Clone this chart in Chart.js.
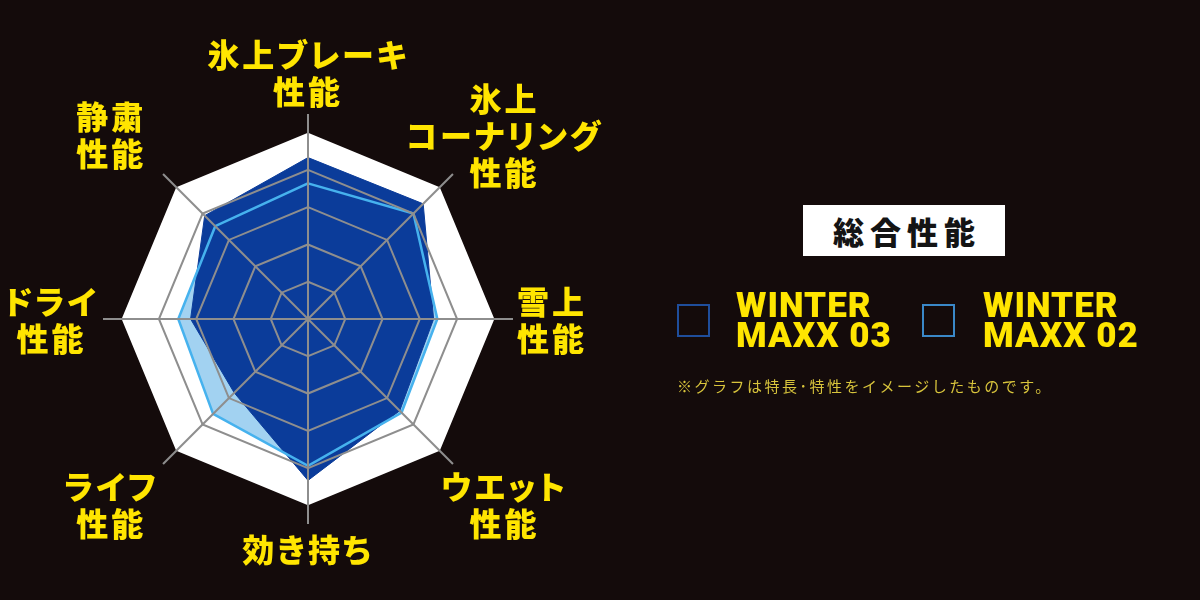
<!DOCTYPE html>
<html>
<head>
    <meta charset="utf-8">
    <title>総合性能</title>
    <script src="https://cdn.jsdelivr.net/npm/chart.js"></script>
    <style>
        html, body {
            margin: 0;
            padding: 0;
            background-color: #140b0b;
        }
        .stage {
            position: relative;
            width: 1200px;
            height: 600px;
            overflow: hidden;
        }
        .chart-wrap {
            position: absolute;
            left: 0;
            top: 0;
            width: 1200px;
            height: 600px;
        }
        .axis-label {
            position: absolute;
            transform: translate(-50%, -50%);
            color: #ffe500;
            font-family: "Noto Sans CJK JP", sans-serif;
            font-weight: 900;
            font-size: 32px;
            line-height: 37px;
            letter-spacing: 3px;
            text-align: center;
            white-space: nowrap;
            font-feature-settings: "palt";
        }
        .title-box {
            position: absolute;
            left: 803px;
            top: 205px;
            width: 202px;
            height: 51px;
            background: #fff;
            color: #141414;
            font-family: "Noto Sans CJK JP", sans-serif;
            font-weight: 900;
            font-size: 31px;
            line-height: 51px;
            letter-spacing: 6px;
            padding-left: 6px;
            box-sizing: border-box;
            text-align: center;
        }
        .legend-box {
            position: absolute;
            top: 304px;
            width: 33px;
            height: 33px;
            box-sizing: border-box;
            border: 2px solid #1f4e9c;
        }
        .legend-text {
            position: absolute;
            top: 291px;
            color: #ffe500;
            font-family: Roboto, "Liberation Sans", sans-serif;
            font-weight: 900;
            font-size: 35px;
            line-height: 30px;
            letter-spacing: 1px;
            white-space: nowrap;
        }
        .note {
            position: absolute;
            left: 677px;
            top: 375px;
            color: #d8c43c;
            font-family: "Noto Sans CJK JP", sans-serif;
            font-size: 15px;
            line-height: 22px;
            letter-spacing: 2.5px;
            white-space: nowrap;
        }
    </style>
</head>
<body>
    <div class="stage">
        <div class="chart-wrap">
            <canvas id="radarChart"></canvas>
        </div>
        <div id="labels"></div>

        <div class="title-box">総合性能</div>

        <div class="legend-box" style="left: 677px; border-color: #1f4e9c;"></div>
        <div class="legend-text" style="left: 736px;">WINTER<br>MAXX 03</div>
        <div class="legend-box" style="left: 922px; border-color: #3a88c8;"></div>
        <div class="legend-text" style="left: 983px;">WINTER<br>MAXX 02</div>

        <div class="note">※グラフは特長･特性をイメージしたものです。</div>
    </div>

    <script>
        // axes, clockwise from the top
        const axisLabels = [
            ['氷上ブレーキ', '性能'],
            ['氷上', 'コーナリング', '性能'],
            ['雪上', '性能'],
            ['ウエット', '性能'],
            ['効き持ち'],
            ['ライフ', '性能'],
            ['ドライ', '性能'],
            ['静粛', '性能']
        ];
        const maxx03 = [4.33, 4.37, 3.37, 3.48, 4.33, 2.8, 3.15, 3.92];
        const maxx02 = [3.64, 4.0, 3.47, 3.55, 3.94, 3.6, 3.48, 3.52];
        const outerRing = [5, 5, 5, 5, 5, 5, 5, 5];
        const gridTicks = [1, 2, 3, 4];

        // label elements (html so that proportional kana spacing works)
        const labelBox = document.getElementById('labels');
        const labelEls = axisLabels.map(lines => {
            const el = document.createElement('div');
            el.className = 'axis-label';
            el.innerHTML = lines.join('<br>');
            labelBox.appendChild(el);
            return el;
        });

        const axisLabelPlugin = {
            id: 'axisLabelPlugin',
            afterDraw(chart) {
                const scale = chart.scales.r;
                const base = scale.drawingArea + 8;
                labelEls.forEach((el, i) => {
                    const dir = scale.getPointPosition(i, 1);
                    const dx = dir.x - scale.xCenter;
                    const dy = dir.y - scale.yCenter;
                    let p;
                    if (Math.abs(dy) < 0.01) {
                        p = scale.getPointPosition(i, base + el.offsetWidth / 2 - 4);
                    } else if (Math.abs(dx) < 0.01) {
                        p = scale.getPointPosition(i, base + (axisLabels[i].length - 1) * 18.5 + 16);
                    } else {
                        // diagonal: push the block out past the corner
                        p = scale.getPointPosition(i, base);
                        p = { x: p.x + Math.sign(dx) * 46, y: p.y + Math.sign(dy) * 34 };
                    }
                    el.style.left = p.x + 'px';
                    el.style.top = p.y + 'px';
                });
            }
        };

        const ctx = document.getElementById('radarChart').getContext('2d');
        new Chart(ctx, {
            type: 'radar',
            data: {
                labels: axisLabels,
                datasets: [
                    {
                        label: 'WINTER MAXX 02',
                        data: maxx02,
                        fill: false,
                        borderColor: '#46b2ee',
                        borderWidth: 2.5,
                        pointRadius: 0
                    },
                    {
                        label: 'WINTER MAXX 03',
                        data: maxx03,
                        fill: true,
                        backgroundColor: '#0b3c9a',
                        borderColor: '#0b3c9a',
                        borderWidth: 1,
                        pointRadius: 0
                    },
                    {
                        label: 'WINTER MAXX 02 fill',
                        data: maxx02,
                        fill: true,
                        backgroundColor: '#a2d2f1',
                        borderWidth: 0,
                        pointRadius: 0
                    },
                    {
                        label: 'outer',
                        data: outerRing,
                        fill: true,
                        backgroundColor: '#ffffff',
                        borderWidth: 0,
                        pointRadius: 0
                    }
                ]
            },
            options: {
                responsive: true,
                maintainAspectRatio: false,
                animation: false,
                layout: {
                    padding: { left: 103, right: 687, top: 114, bottom: 76 }
                },
                plugins: {
                    legend: { display: false },
                    tooltip: { enabled: false }
                },
                elements: {
                    line: { tension: 0, borderJoinStyle: 'miter' }
                },
                scales: {
                    r: {
                        min: 0,
                        max: 5.5,
                        ticks: { display: false, stepSize: 1 },
                        pointLabels: { display: false },
                        grid: {
                            z: 1,
                            lineWidth: 2,
                            color: c => gridTicks.includes(c.tick.value) ? '#8e8e8e' : 'rgba(0,0,0,0)'
                        },
                        angleLines: {
                            color: '#8e8e8e',
                            lineWidth: 2
                        }
                    }
                }
            },
            plugins: [axisLabelPlugin]
        });
    </script>
</body>
</html>
